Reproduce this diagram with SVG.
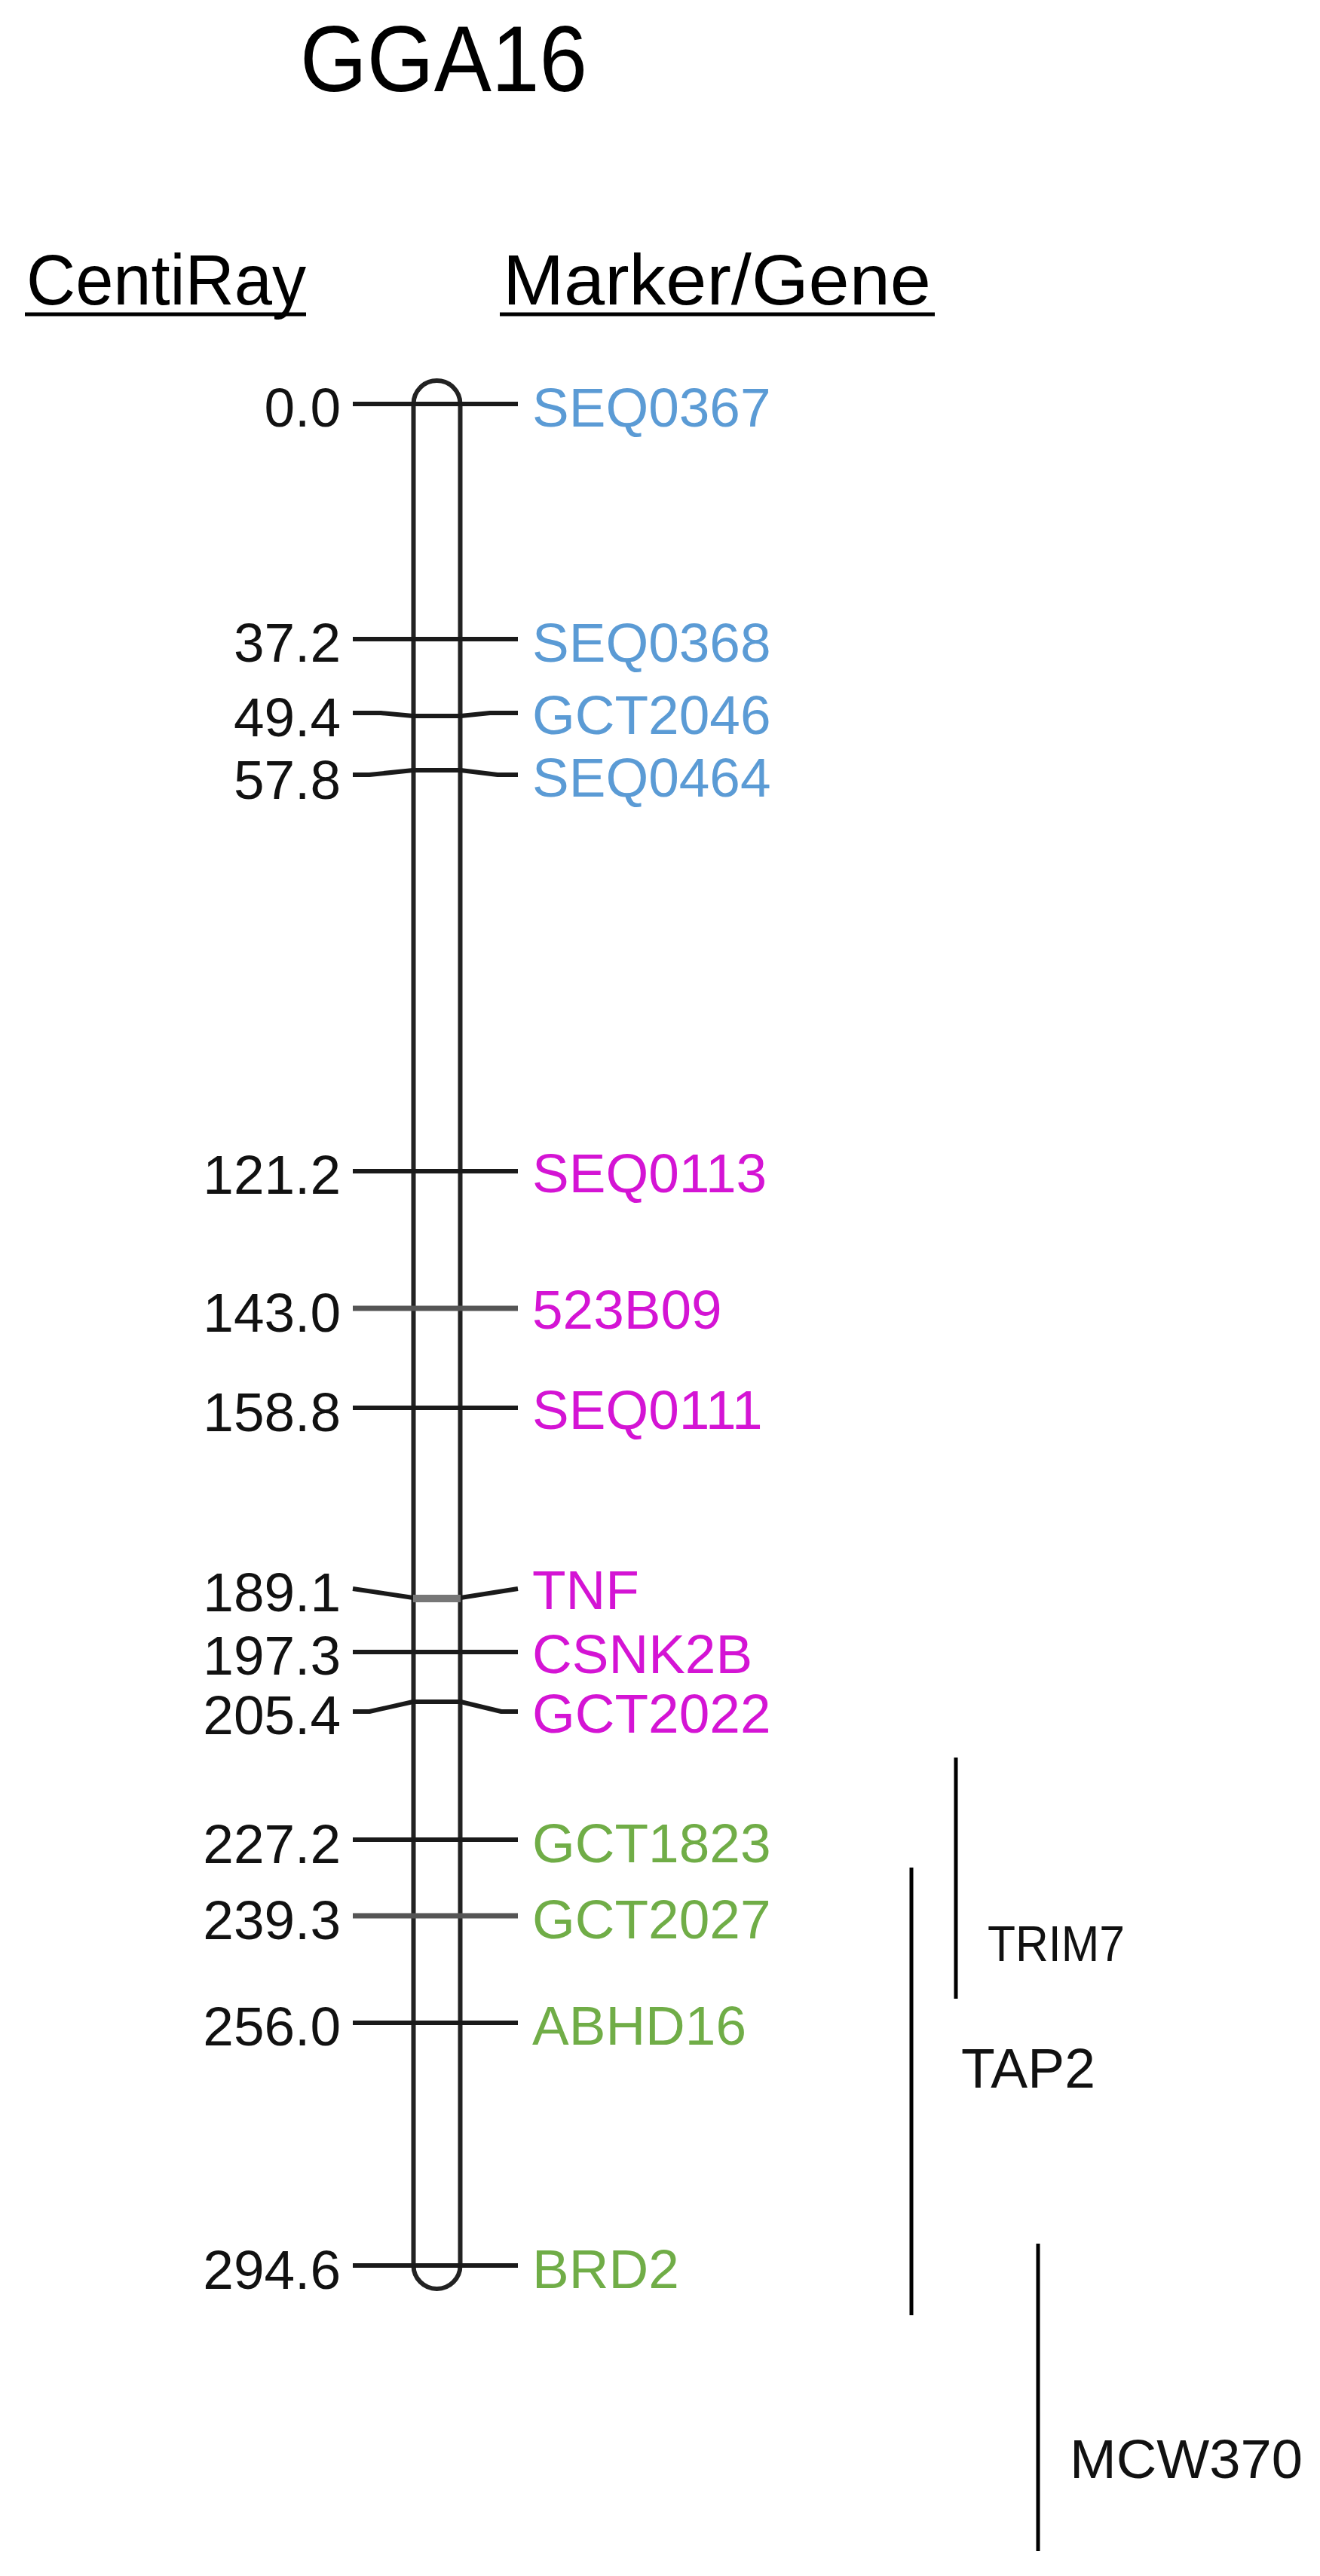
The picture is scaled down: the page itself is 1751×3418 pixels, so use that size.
<svg xmlns="http://www.w3.org/2000/svg" width="1751" height="3418" viewBox="0 0 1751 3418">
<style>
.hd{font-family:"Liberation Sans",Arial,sans-serif;fill:#000}
.num{font-family:"Liberation Sans",Arial,sans-serif;font-size:73px;fill:#111;text-anchor:end}
.lbl{font-family:"Liberation Sans",Arial,sans-serif;font-size:73px}
.blue{fill:#5B9BD5}
.mag{fill:#D414D4}
.grn{fill:#70AD47}
.tick{fill:none;stroke:#1a1a1a;stroke-width:6;stroke-linejoin:round}
.tickg{fill:none;stroke:#555;stroke-width:7}
.chr{fill:none;stroke:#222;stroke-width:6}
.bar{stroke:#000;stroke-width:5}
.side{font-family:"Liberation Sans",Arial,sans-serif;fill:#111}
</style>
<rect width="1751" height="3418" fill="#fff"/>
<g id="title"><text class="hd" x="398" y="121" font-size="124" textLength="381" lengthAdjust="spacingAndGlyphs">GGA16</text></g>
<g id="header-centiray"><text class="hd" x="35" y="404" font-size="94" textLength="371" lengthAdjust="spacingAndGlyphs">CentiRay</text><line x1="33" y1="417" x2="406" y2="417" stroke="#000" stroke-width="5"/></g>
<g id="header-marker"><text class="hd" x="667" y="404" font-size="94" textLength="568" lengthAdjust="spacingAndGlyphs">Marker/Gene</text><line x1="663" y1="417" x2="1240" y2="417" stroke="#000" stroke-width="5"/></g>
<g id="chromosome"><path class="chr" d="M548.5,536 A31,31 0 0 1 610.5,536 L610.5,3006 A31,31 0 0 1 548.5,3006 Z"/></g>
<g id="connectors">
<polyline id="t0" class="tick" stroke="#333" points="468,536 687,536"/>
<polyline id="t1" class="tick" points="468,848 687,848"/>
<polyline id="t2" class="tick" points="468,946 505,946 548,950 611,950 650,946 687,946"/>
<polyline id="t3" class="tick" points="468,1028 490,1028 548,1022 611,1022 660,1028 687,1028"/>
<polyline id="t4" class="tick" stroke="#333" points="468,1554 687,1554"/>
<polyline id="t5" class="tickg" points="468,1736 687,1736"/>
<polyline id="t6" class="tick" stroke="#333" points="468,1868 687,1868"/>
<polyline id="t7" class="tick" points="468,2108 548,2120 611,2120 687,2108"/>
<line x1="548" y1="2121" x2="611" y2="2121" stroke="#777" stroke-width="10"/>
<polyline id="t8" class="tick" stroke="#333" points="468,2192 687,2192"/>
<polyline id="t9" class="tick" points="468,2271 490,2271 548,2258 611,2258 665,2271 687,2271"/>
<polyline id="t10" class="tick" stroke="#333" points="468,2441 687,2441"/>
<polyline id="t11" class="tickg" points="468,2542 687,2542"/>
<polyline id="t12" class="tick" points="468,2684 687,2684"/>
<polyline id="t13" class="tick" stroke="#333" points="468,3006 687,3006"/>
</g>
<g id="m-SEQ0367"><text class="num" x="452" y="566">0.0</text><text class="lbl blue" x="706" y="566">SEQ0367</text></g>
<g id="m-SEQ0368"><text class="num" x="452" y="878">37.2</text><text class="lbl blue" x="706" y="878">SEQ0368</text></g>
<g id="m-GCT2046"><text class="num" x="452" y="977">49.4</text><text class="lbl blue" x="706" y="974">GCT2046</text></g>
<g id="m-SEQ0464"><text class="num" x="452" y="1060">57.8</text><text class="lbl blue" x="706" y="1057">SEQ0464</text></g>
<g id="m-SEQ0113"><text class="num" x="452" y="1584">121.2</text><text class="lbl mag" x="706" y="1582">SEQ0113</text></g>
<g id="m-523B09"><text class="num" x="452" y="1767">143.0</text><text class="lbl mag" x="706" y="1763">523B09</text></g>
<g id="m-SEQ0111"><text class="num" x="452" y="1899">158.8</text><text class="lbl mag" x="706" y="1896">SEQ0111</text></g>
<g id="m-TNF"><text class="num" x="452" y="2138">189.1</text><text class="lbl mag" x="706" y="2135">TNF</text></g>
<g id="m-CSNK2B"><text class="num" x="452" y="2222">197.3</text><text class="lbl mag" x="706" y="2220">CSNK2B</text></g>
<g id="m-GCT2022"><text class="num" x="452" y="2301">205.4</text><text class="lbl mag" x="706" y="2299">GCT2022</text></g>
<g id="m-GCT1823"><text class="num" x="452" y="2472">227.2</text><text class="lbl grn" x="706" y="2471">GCT1823</text></g>
<g id="m-GCT2027"><text class="num" x="452" y="2573">239.3</text><text class="lbl grn" x="706" y="2572">GCT2027</text></g>
<g id="m-ABHD16"><text class="num" x="452" y="2714">256.0</text><text class="lbl grn" x="706" y="2713">ABHD16</text></g>
<g id="m-BRD2"><text class="num" x="452" y="3037">294.6</text><text class="lbl grn" x="706" y="3036">BRD2</text></g>
<g id="r-TRIM7"><line class="bar" stroke="#444" x1="1268" y1="2332" x2="1268" y2="2652"/><text class="side" x="1310" y="2602" font-size="66" textLength="182" lengthAdjust="spacingAndGlyphs">TRIM7</text></g>
<g id="r-TAP2"><line class="bar" x1="1209" y1="2478" x2="1209" y2="3072"/><text class="side" x="1275" y="2770" font-size="75" textLength="178" lengthAdjust="spacingAndGlyphs">TAP2</text></g>
<g id="r-MCW370"><line class="bar" x1="1377" y1="2977" x2="1377" y2="3385"/><text class="side" x="1419" y="3288" font-size="72" textLength="309" lengthAdjust="spacingAndGlyphs">MCW370</text></g>
</svg>
